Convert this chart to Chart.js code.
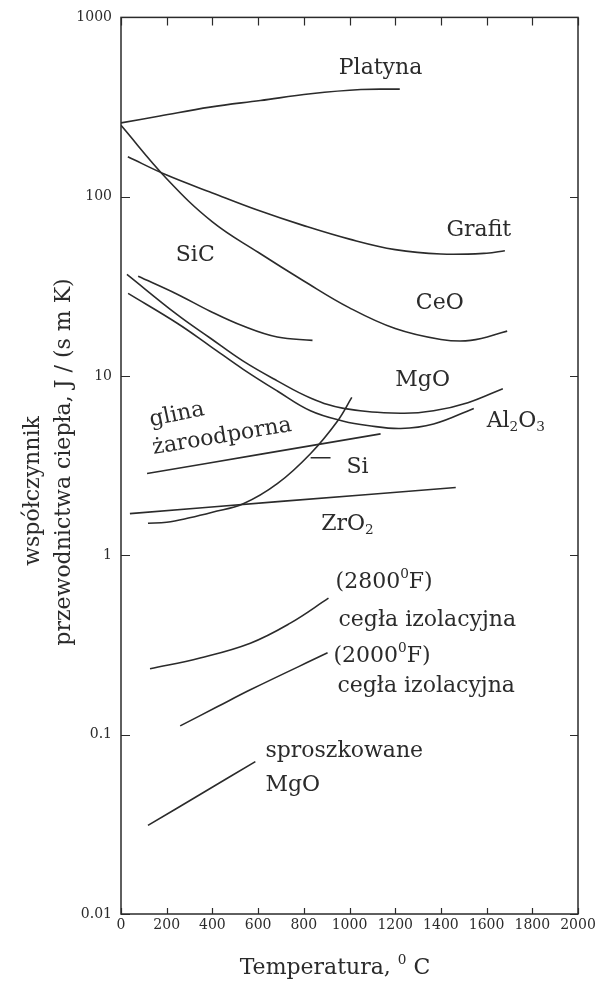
<!DOCTYPE html>
<html>
<head>
<meta charset="utf-8">
<script src="https://cdn.jsdelivr.net/npm/chart.js@4.4.1/dist/chart.umd.min.js"></script>
<style>
  html, body { margin: 0; padding: 0; background: #fff; }
  canvas { display: block; }
</style>
</head>
<body>
<canvas id="kChart" width="599" height="989"></canvas>
<script>
// temperatura [C] i wspolczynnik przewodnictwa [J/(s m K)]
var platynaT = [0, 170, 390, 610, 830, 1050, 1220];
var platynaK = [258, 282, 316, 344, 375, 396, 398];

var ceoT = [0, 200, 400, 600, 800, 1000, 1200, 1400, 1530, 1690];
var ceoK = [250, 126, 72.4, 49, 33.9, 24, 18.4, 16.0, 15.8, 17.8];

var grafitT = [30, 200, 400, 600, 800, 1000, 1200, 1400, 1600, 1680];
var grafitK = [167, 132, 105, 84, 69, 58, 50.7, 47.9, 48.4, 50];

var sicT = [75, 246, 390, 535, 684, 838];
var sicK = [36, 28.6, 23, 19, 16.5, 15.8];

var mgoT = [26, 246, 390, 535, 684, 829, 974, 1224, 1368, 1518, 1671];
var mgoK = [36.9, 22, 16.3, 12.1, 9.4, 7.55, 6.6, 6.2, 6.4, 7.1, 8.5];

var al2o3T = [31, 246, 390, 535, 684, 829, 974, 1079, 1224, 1368, 1544];
var al2o3K = [28.9, 19.7, 14.7, 10.9, 8.25, 6.4, 5.6, 5.3, 5.1, 5.4, 6.6];

var glinaT = [114, 620, 1136];
var glinaK = [2.86, 3.68, 4.76];

var siT = [118, 200, 300, 400, 535, 684, 829, 947, 1010];
var siK = [1.51, 1.53, 1.62, 1.74, 1.94, 2.51, 3.69, 5.6, 7.6];

var siLeaderT = [830, 917];
var siLeaderK = [3.5, 3.5];

var zro2T = [39, 700, 1465];
var zro2K = [1.71, 2.0, 2.39];

var cegla2800T = [127, 346, 566, 741, 908];
var cegla2800K = [0.233, 0.268, 0.324, 0.419, 0.577];

var cegla2000T = [259, 421, 566, 904];
var cegla2000K = [0.112, 0.143, 0.178, 0.286];

var mgoProszekT = [118, 346, 588];
var mgoProszekK = [0.0312, 0.0464, 0.0708];

var xTicks = [0, 200, 400, 600, 800, 1000, 1200, 1400, 1600, 1800, 2000];
var yTicks = [0.01, 0.1, 1, 10, 100, 1000];

var ink = "#2b2b2b";
var serif = "'DejaVu Serif', 'Liberation Serif', serif";

var curves = [
  [platynaT, platynaK], [ceoT, ceoK], [grafitT, grafitK], [sicT, sicK],
  [mgoT, mgoK], [al2o3T, al2o3K], [glinaT, glinaK], [siT, siK],
  [siLeaderT, siLeaderK], [zro2T, zro2K], [cegla2800T, cegla2800K],
  [cegla2000T, cegla2000K], [mgoProszekT, mgoProszekK]
];

// opisy krzywych (pozycja w jednostkach danych)
var labels = [
  { x: 1136, y: 521, align: "center", parts: [["Platyna"]] },
  { x: 1566, y: 64.7, align: "center", parts: [["Grafit"]] },
  { x: 325, y: 47, align: "center", parts: [["SiC"]] },
  { x: 1395, y: 25.5, align: "center", parts: [["CeO"]] },
  { x: 1320, y: 9.5, align: "center", parts: [["MgO"]] },
  { x: 1728, y: 5.6, align: "center", parts: [["Al"], ["2", "sub"], ["O"], ["3", "sub"]] },
  { x: 245, y: 6.07, align: "center", rot: -12, parts: [["glina"]] },
  { x: 442, y: 4.58, align: "center", rot: -9.5, parts: [["żaroodporna"]] },
  { x: 1035, y: 3.08, align: "center", parts: [["Si"]] },
  { x: 991, y: 1.49, align: "center", parts: [["ZrO"], ["2", "sub"]] },
  { x: 939, y: 0.707, align: "left", parts: [["(2800"], ["0", "sup"], ["F)"]] },
  { x: 952, y: 0.435, align: "left", parts: [["cegła izolacyjna"]] },
  { x: 930, y: 0.275, align: "left", parts: [["(2000"], ["0", "sup"], ["F)"]] },
  { x: 947, y: 0.185, align: "left", parts: [["cegła izolacyjna"]] },
  { x: 632, y: 0.0805, align: "left", parts: [["sproszkowane"]] },
  { x: 632, y: 0.0521, align: "left", parts: [["MgO"]] }
];

function drawRich(ctx, parts, x, y, align, size) {
  var widths = parts.map(function (p) {
    ctx.font = (p[1] ? size * 0.62 : size) + "px " + serif;
    return ctx.measureText(p[0]).width;
  });
  var total = widths.reduce(function (a, b) { return a + b; }, 0);
  var cx = align === "center" ? x - total / 2 : x;
  ctx.textAlign = "left";
  ctx.textBaseline = "middle";
  parts.forEach(function (p, i) {
    var dy = 0;
    if (p[1] === "sub") dy = size * 0.28;
    if (p[1] === "sup") dy = -size * 0.36;
    ctx.font = (p[1] ? size * 0.62 : size) + "px " + serif;
    ctx.fillText(p[0], cx, y + dy);
    cx += widths[i];
  });
}

var decorPlugin = {
  id: "decor",
  afterDraw: function (chart) {
    var ctx = chart.ctx;
    var a = chart.chartArea;
    var xs = chart.scales.x, ys = chart.scales.y;
    ctx.save();
    ctx.strokeStyle = ink;
    ctx.fillStyle = ink;
    ctx.lineWidth = 1.5;
    ctx.strokeRect(a.left, a.top, a.right - a.left, a.bottom - a.top);
    ctx.beginPath();
    xTicks.forEach(function (v) {
      var px = Math.round(xs.getPixelForValue(v)) + 0.5;
      ctx.moveTo(px, a.bottom); ctx.lineTo(px, a.bottom - 6);
      ctx.moveTo(px, a.top); ctx.lineTo(px, a.top + 8);
    });
    yTicks.forEach(function (v) {
      var py = Math.round(ys.getPixelForValue(v)) + 0.5;
      ctx.moveTo(a.left, py); ctx.lineTo(a.left + 9, py);
      ctx.moveTo(a.right, py); ctx.lineTo(a.right - 8, py);
    });
    ctx.lineWidth = 1.2;
    ctx.stroke();

    labels.forEach(function (l) {
      var px = xs.getPixelForValue(l.x), py = ys.getPixelForValue(l.y);
      ctx.save();
      ctx.translate(px, py);
      if (l.rot) ctx.rotate(l.rot * Math.PI / 180);
      drawRich(ctx, l.parts, 0, 0, l.align, 22);
      ctx.restore();
    });

    // tytul osi x
    drawRich(ctx, [["Temperatura, "], ["0", "sup"], [" C"]], 335, 968, "center", 22);

    // tytul osi y (dwie linie, przesuniete wzgledem siebie)
    ctx.font = "22px " + serif;
    ctx.textAlign = "center";
    ctx.textBaseline = "middle";
    ctx.save();
    ctx.translate(33, 491);
    ctx.rotate(-Math.PI / 2);
    ctx.fillText("współczynnik", 0, 0);
    ctx.restore();
    ctx.save();
    ctx.translate(64, 462);
    ctx.rotate(-Math.PI / 2);
    ctx.fillText("przewodnictwa ciepła, J / (s m K)", 0, 0);
    ctx.restore();
    ctx.restore();
  }
};

var ctx = document.getElementById("kChart").getContext("2d");

var kChart = new Chart(ctx, {
  type: "line",
  data: {
    datasets: curves.map(function (c) {
      return {
        data: c[0].map(function (t, i) { return { x: t, y: c[1][i] }; }),
        borderColor: ink,
        borderWidth: 1.6,
        pointRadius: 0,
        tension: 0.4,
        fill: false
      };
    })
  },
  options: {
    responsive: false,
    animation: false,
    layout: {
      padding: { top: 15, right: 21, left: 0, bottom: 0 }
    },
    plugins: {
      legend: { display: false },
      tooltip: { enabled: false }
    },
    scales: {
      x: {
        type: "linear",
        min: 0,
        max: 2000,
        afterBuildTicks: function (s) { s.ticks = xTicks.map(function (v) { return { value: v }; }); },
        afterFit: function (s) { s.height = 75; },
        grid: { display: false, drawTicks: false },
        border: { display: false },
        ticks: {
          color: ink,
          padding: 3,
          maxRotation: 0,
          autoSkip: false,
          font: { family: serif, size: 14 },
          callback: function (v) { return String(v); }
        }
      },
      y: {
        type: "logarithmic",
        min: 0.01,
        max: 1000,
        afterBuildTicks: function (s) { s.ticks = yTicks.map(function (v) { return { value: v }; }); },
        afterFit: function (s) { s.width = 121; },
        grid: { display: false, drawTicks: false },
        border: { display: false },
        ticks: {
          color: ink,
          padding: 9,
          autoSkip: false,
          font: { family: serif, size: 14 },
          callback: function (v) { return String(v); }
        }
      }
    }
  },
  plugins: [decorPlugin]
});
</script>
</body>
</html>
